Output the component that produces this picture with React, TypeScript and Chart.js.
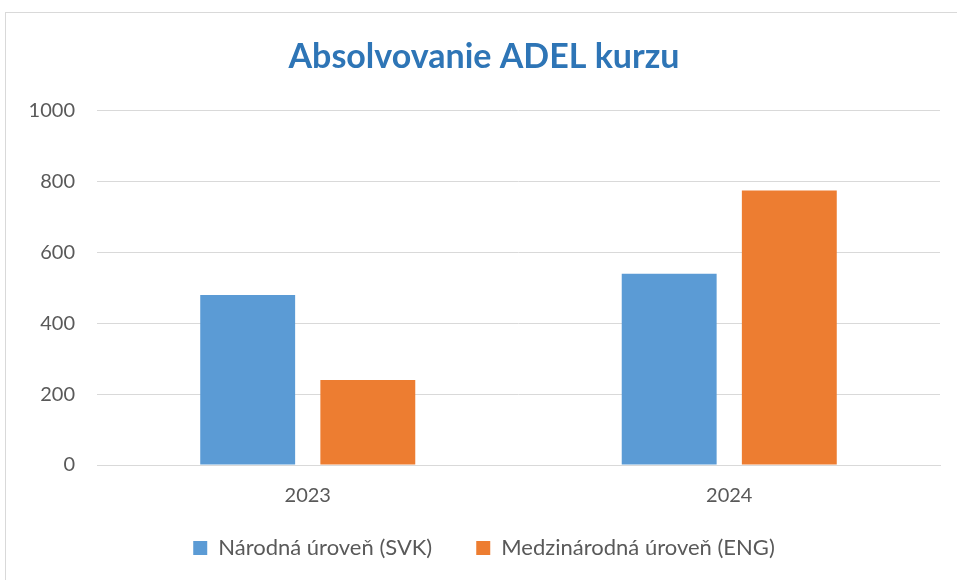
import React, { useEffect, useRef } from "react";
import { Chart, registerables } from "chart.js";

Chart.register(...registerables);

const chartTitle = "Absolvovanie ADEL kurzu";
const categories = ["2023", "2024"];
const seriesNames = ["Národná úroveň (SVK)", "Medzinárodná úroveň (ENG)"];
const narodnaValues = [480, 540];
const medzinarodnaValues = [240, 775];
const yTickValues = [0, 200, 400, 600, 800, 1000];

const FONT = "Lato, 'Open Sans', sans-serif";
const TEXT = "#595959";
const GRID = "#D9D9D9";

export default function App() {
  const ref = useRef<HTMLCanvasElement | null>(null);

  useEffect(() => {
    if (!ref.current) return;
    const chart = new Chart(ref.current, {
      type: "bar",
      data: {
        labels: categories,
        datasets: [
          {
            label: seriesNames[0],
            data: narodnaValues,
            backgroundColor: "#5B9BD5",
            borderWidth: 0,
            categoryPercentage: 0.57,
            barPercentage: 0.79,
          },
          {
            label: seriesNames[1],
            data: medzinarodnaValues,
            backgroundColor: "#ED7D31",
            borderWidth: 0,
            categoryPercentage: 0.57,
            barPercentage: 0.79,
          },
        ],
      },
      options: {
        responsive: false,
        animation: false,
        layout: { padding: { left: 28, right: 17, top: 0, bottom: 11 } },
        plugins: {
          title: {
            display: true,
            text: chartTitle,
            color: "#2E75B6",
            font: { family: FONT, size: 34, weight: "bold" },
            padding: { top: 37, bottom: 33 },
          },
          legend: {
            position: "bottom",
            title: {
              display: true,
              text: "",
              font: { family: FONT, size: 1, lineHeight: 1 },
              padding: { top: -14, bottom: 0 },
            },
            labels: {
              boxWidth: 14,
              boxHeight: 14,
              color: TEXT,
              font: { family: FONT, size: 22 },
              padding: 44,
            },
          },
          tooltip: { enabled: false },
        },
        scales: {
          x: {
            grid: { display: false, drawTicks: false },
            border: { display: true, color: GRID },
            ticks: {
              color: TEXT,
              font: { family: FONT, size: 20, lineHeight: 1 },
              padding: 21,
            },
            afterFit: (s: any) => {
              s.height = 41;
            },
          },
          y: {
            min: yTickValues[0],
            max: yTickValues[yTickValues.length - 1],
            ticks: {
              stepSize: yTickValues[1] - yTickValues[0],
              color: TEXT,
              font: { family: FONT, size: 20 },
              padding: 22,
              callback: (v: any) => String(v),
            },
            grid: { color: GRID, drawTicks: false, lineWidth: 1 },
            border: { display: false },
            afterFit: (s: any) => {
              s.width = 69;
            },
          },
        },
      },
    });
    return () => chart.destroy();
  }, []);

  return (
    <div style={{ position: "fixed", left: 0, top: 0, width: 957, height: 580, background: "#fff", overflow: "hidden" }}>
      <div
        style={{
          position: "absolute",
          left: 5,
          top: 12,
          width: 1000,
          height: 1000,
          border: "1px solid #D9D9D9",
        }}
      />
      <canvas ref={ref} width={957} height={580} style={{ position: "absolute", left: 0, top: 0 }} />
    </div>
  );
}
